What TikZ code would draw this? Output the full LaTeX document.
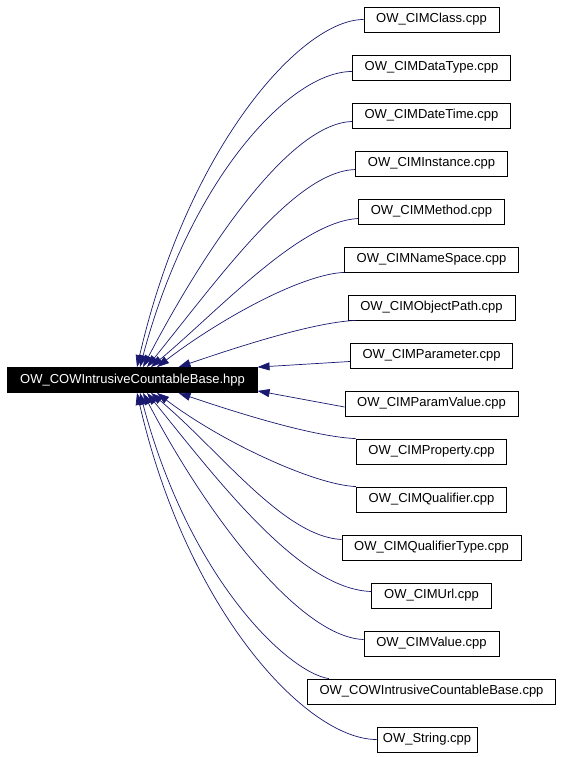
\documentclass[tikz,border=0pt]{standalone}
\usepackage{fontspec}
\setmainfont{Liberation Sans}
\usepackage{tikz}
\usetikzlibrary{arrows.meta}
\definecolor{edgeblue}{RGB}{25,25,112}

\begin{document}
\begin{tikzpicture}[x=1pt,y=-1pt,
  file/.style={draw=black, line width=0.8pt, fill=white, font=\fontsize{13}{15}\selectfont,
    inner xsep=12.3pt, inner ysep=0pt, minimum height=25pt},
  hdr/.style={file, fill=black, text=white},
  dep/.style={draw=edgeblue, line width=0.7pt, {Triangle[length=12pt,width=8pt]}-}]
\useasboundingbox (0,0) rectangle (563,757);

\node[hdr] (base) at (132.5,380) {OW\_COWIntrusiveCountableBase.hpp};

\node[file] (cls)    at (431.5,19.5)  {OW\_CIMClass.cpp};
\node[file] (dtype)  at (431.5,67.5)  {OW\_CIMDataType.cpp};
\node[file] (dtime)  at (431.5,115.5) {OW\_CIMDateTime.cpp};
\node[file] (inst)   at (431.5,163.5) {OW\_CIMInstance.cpp};
\node[file] (meth)   at (431.5,211.5) {OW\_CIMMethod.cpp};
\node[file] (nspace) at (431.5,259.5) {OW\_CIMNameSpace.cpp};
\node[file] (opath)  at (431.5,307.5) {OW\_CIMObjectPath.cpp};
\node[file] (param)  at (431.5,355.5) {OW\_CIMParameter.cpp};
\node[file] (pval)   at (431.5,403.5) {OW\_CIMParamValue.cpp};
\node[file] (prop)   at (431.5,451.5) {OW\_CIMProperty.cpp};
\node[file] (qual)   at (431.5,499.5) {OW\_CIMQualifier.cpp};
\node[file] (qtype)  at (431.5,547.5) {OW\_CIMQualifierType.cpp};
\node[file] (url)    at (431.5,595.5) {OW\_CIMUrl.cpp};
\node[file] (val)    at (431.5,643.5) {OW\_CIMValue.cpp};
\node[file] (cowb)   at (431.5,691.5) {OW\_COWIntrusiveCountableBase.cpp};
\node[file, inner xsep=6pt] (str) at (427,739.5) {OW\_String.cpp};

% upper fan
\draw[dep] ([xshift=4.5pt]base.north) .. controls +(50,-218) and +(-63,0) .. (cls.west);
\draw[dep] ([xshift=7.5pt]base.north) .. controls +(50,-188) and +(-62,0) .. ([yshift=-4pt]dtype.west);
\draw[dep] ([xshift=10.5pt]base.north) .. controls +(67,-128) and +(-60,2) .. ([yshift=-6pt]dtime.west);
\draw[dep] ([xshift=14.5pt]base.north) .. controls +(75,-93) and +(-60,2) .. ([yshift=-6pt]inst.west);
\draw[dep] ([xshift=18.5pt]base.north) .. controls +(69,-58) and +(-58,3) .. ([yshift=-7pt]meth.west);
\draw[dep] ([xshift=24.5pt]base.north) .. controls +(63,-48) and +(-43,2) .. (nspace.south west);
\draw[dep] ([xshift=46pt]base.north) .. controls +(50,-17) and +(-45,2) .. ([xshift=8pt]opath.south west);

% straight ones
\draw[dep] (base.north east) -- ([yshift=-6pt]param.west);
\draw[dep] ([yshift=2pt]base.south east) -- ([yshift=-3.5pt]pval.west);

% lower fan
\draw[dep] ([xshift=46pt]base.south) .. controls +(50,17) and +(-45,-2) .. (prop.north west);
\draw[dep] ([xshift=24.5pt]base.south) .. controls +(63,48) and +(-43,-2) .. (qual.north west);
\draw[dep] ([xshift=18.5pt]base.south) .. controls +(69,58) and +(-58,-3) .. ([yshift=8pt]qtype.west);
\draw[dep] ([xshift=14.5pt]base.south) .. controls +(75,93) and +(-70,-2) .. ([yshift=4pt]url.west);
\draw[dep] ([xshift=10.5pt]base.south) .. controls +(67,128) and +(-62,-2) .. ([yshift=4pt]val.west);
\draw[dep] ([xshift=7.5pt]base.south) .. controls +(50,188) and +(-40,-6) .. ([xshift=22pt]cowb.north west);
\draw[dep] ([xshift=4.5pt]base.south) .. controls +(50,218) and +(-70,0) .. (str.west);
\end{tikzpicture}
\end{document}
